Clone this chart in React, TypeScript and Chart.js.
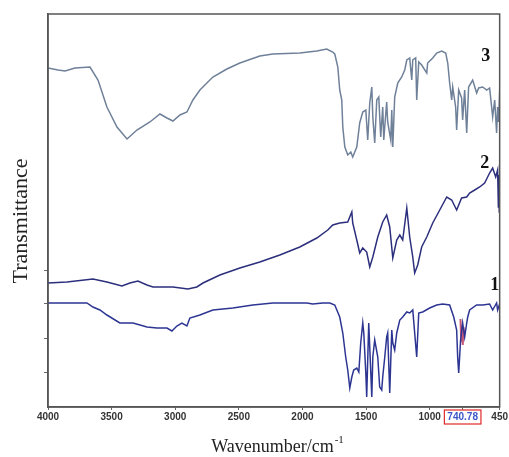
import React, { useEffect, useRef } from 'react';
import { Chart, registerables } from 'chart.js';

Chart.register(...registerables);

// x axis ticks (wavenumber, cm-1)
const xTicks = [4000, 3500, 3000, 2500, 2000, 1500, 1000, 740.78, 450];
const markedPeak = 740.78;
const yTicks = [35, 69, 104, 137];

// Curve 3
const wn3 = [4000, 3921, 3866, 3788, 3670, 3607, 3537, 3458, 3379, 3301, 3199, 3120, 3065, 3018, 2963, 2908, 2861, 2806, 2704, 2594, 2492, 2335, 2233, 2021, 1887, 1809, 1762, 1746, 1722, 1707, 1691, 1683, 1667, 1644, 1620, 1605, 1573, 1550, 1526, 1502, 1487, 1471, 1455, 1447, 1432, 1416, 1400, 1385, 1369, 1361, 1338, 1330, 1306, 1298, 1290, 1275, 1251, 1220, 1196, 1180, 1157, 1141, 1133, 1110, 1102, 1086, 1063, 1023, 1016, 976, 945, 906, 874, 858, 843, 827, 819, 796, 788, 772, 749, 741, 725, 709, 694, 662, 631, 615, 584, 552, 529, 513, 505, 489, 474, 466, 458, 450];
const t3 = [339, 337, 336, 339, 340, 327, 300, 280, 268, 277, 285, 293, 289, 286, 292, 295, 307, 317, 330, 338, 344, 351, 353, 354, 356, 358, 355, 353, 340, 317, 307, 280, 260, 252, 255, 250, 260, 284, 295, 297, 267, 304, 320, 290, 264, 307, 310, 270, 300, 267, 305, 285, 267, 297, 260, 310, 324, 330, 337, 347, 349, 327, 347, 349, 307, 345, 342, 334, 344, 349, 354, 356, 354, 344, 324, 307, 320, 300, 277, 317, 309, 287, 317, 274, 320, 327, 314, 319, 320, 317, 319, 300, 290, 307, 274, 300, 285, 317];

// Curve 2
const wn2 = [4000, 3851, 3647, 3537, 3419, 3356, 3293, 3222, 3175, 3018, 2900, 2830, 2782, 2649, 2492, 2335, 2178, 2021, 1887, 1801, 1762, 1707, 1644, 1612, 1605, 1573, 1550, 1526, 1495, 1471, 1447, 1408, 1369, 1338, 1314, 1290, 1259, 1235, 1212, 1180, 1157, 1133, 1118, 1094, 1063, 1023, 976, 921, 866, 827, 788, 749, 709, 686, 646, 607, 568, 529, 505, 481, 466, 460, 456, 453, 450];
const t2 = [124, 125, 128, 125, 121, 124, 126, 122, 120, 120, 118, 120, 124, 132, 139, 145, 152, 160, 169, 177, 182, 184, 185, 195, 184, 167, 154, 159, 155, 140, 150, 170, 185, 192, 180, 149, 167, 172, 167, 199, 170, 150, 134, 142, 160, 170, 184, 197, 210, 207, 197, 209, 210, 214, 217, 220, 224, 234, 239, 230, 237, 200, 232, 195, 225];

// Curve 1
const wn1 = [4000, 3694, 3647, 3592, 3537, 3435, 3332, 3277, 3222, 3144, 3065, 3026, 2987, 2948, 2908, 2885, 2806, 2704, 2547, 2390, 2233, 1966, 1919, 1840, 1785, 1746, 1707, 1683, 1660, 1644, 1628, 1612, 1597, 1573, 1557, 1542, 1526, 1518, 1502, 1495, 1479, 1455, 1447, 1432, 1408, 1393, 1377, 1369, 1353, 1338, 1330, 1314, 1298, 1290, 1275, 1259, 1235, 1212, 1180, 1157, 1133, 1102, 1086, 1055, 1000, 945, 898, 843, 811, 788, 780, 772, 757, 741, 725, 709, 701, 686, 631, 584, 529, 505, 474, 466, 450];
const t1 = [104, 104, 100, 97, 92, 84, 84, 82, 80, 79, 79, 76, 81, 84, 81, 89, 92, 97, 99, 102, 104, 104, 103, 104, 104, 102, 90, 74, 50, 37, 19, 30, 37, 39, 35, 64, 84, 74, 34, 10, 84, 10, 50, 67, 50, 20, 17, 30, 50, 70, 74, 14, 77, 64, 57, 74, 87, 90, 95, 94, 97, 50, 94, 95, 99, 102, 103, 102, 90, 77, 50, 34, 67, 84, 70, 84, 90, 97, 102, 102, 103, 97, 104, 97, 103];

// Highlighted segment near 740.78
const wnRed = [758, 752, 746, 740, 734, 728];
const tRed = [88, 66, 82, 62, 80, 72];

// Curve numbers
const curveLabels = ['3', '2', '1'];
const labelWn = [560, 568, 489];
const labelT = [351, 244, 122];

const pts = (xs: number[], ys: number[]) => xs.map((x, i) => ({ x, y: ys[i] }));

const tickFont = 'bold 10px "Liberation Sans", Arial, sans-serif';

const decor = {
  id: 'decor',
  afterDatasetsDraw(chart: any) {
    const { ctx, chartArea: a, scales } = chart;
    const x = scales.x;
    const y = scales.y;
    ctx.save();
    // frame
    ctx.strokeStyle = '#555';
    ctx.lineWidth = 1.5;
    ctx.strokeRect(a.left, a.top, a.right - a.left, a.bottom - a.top);
    // curve numbers
    ctx.fillStyle = '#111';
    ctx.font = 'bold 18px "Liberation Serif", "Times New Roman", serif';
    ctx.textAlign = 'center';
    ctx.textBaseline = 'middle';
    curveLabels.forEach((l, i) => {
      ctx.fillText(l, x.getPixelForValue(labelWn[i]), y.getPixelForValue(labelT[i]));
    });
    // box round the marked peak label
    ctx.font = tickFont;
    const w = ctx.measureText(String(markedPeak)).width;
    const px = x.getPixelForValue(markedPeak);
    ctx.strokeStyle = '#e02828';
    ctx.lineWidth = 1.2;
    ctx.strokeRect(px - w / 2 - 3, a.bottom + 3, w + 6, 14);
    // y title
    ctx.save();
    ctx.translate(21, 221);
    ctx.rotate(-Math.PI / 2);
    ctx.fillStyle = '#222';
    ctx.font = '22px "Liberation Serif", "Times New Roman", serif';
    ctx.textAlign = 'center';
    ctx.textBaseline = 'middle';
    ctx.fillText('Transmittance', 0, 0);
    ctx.restore();
    // x title with superscript
    ctx.fillStyle = '#222';
    ctx.font = '18px "Liberation Serif", "Times New Roman", serif';
    ctx.textAlign = 'left';
    ctx.textBaseline = 'alphabetic';
    const main = 'Wavenumber/cm';
    const mw = ctx.measureText(main).width;
    ctx.font = '11px "Liberation Serif", "Times New Roman", serif';
    const sw = ctx.measureText('-1').width;
    const startX = 277 - (mw + sw) / 2;
    ctx.font = '18px "Liberation Serif", "Times New Roman", serif';
    ctx.fillText(main, startX, 452);
    ctx.font = '11px "Liberation Serif", "Times New Roman", serif';
    ctx.fillText('-1', startX + mw + 1, 443);
    ctx.restore();
  },
};

export default function App() {
  const ref = useRef<HTMLCanvasElement | null>(null);
  useEffect(() => {
    if (!ref.current) return;
    const chart = new Chart(ref.current, {
      type: 'line',
      data: {
        datasets: [
          { label: '3', data: pts(wn3, t3), borderColor: '#6f8099', borderWidth: 1.5, pointRadius: 0, tension: 0 },
          { label: '2', data: pts(wn2, t2), borderColor: '#2c2f7c', borderWidth: 1.5, pointRadius: 0, tension: 0 },
          { label: '1', data: pts(wn1, t1), borderColor: '#2d3592', borderWidth: 1.5, pointRadius: 0, tension: 0 },
          { label: 'mark', data: pts(wnRed, tRed), borderColor: '#c4587a', borderWidth: 2, pointRadius: 0, tension: 0 },
        ],
      },
      options: {
        responsive: false,
        animation: false,
        layout: { padding: { top: 14, right: 9, left: 0, bottom: 0 } },
        plugins: { legend: { display: false }, tooltip: { enabled: false } },
        scales: {
          x: {
            type: 'linear',
            reverse: true,
            min: 450,
            max: 4000,
            afterBuildTicks: (s: any) => { s.ticks = xTicks.map((v) => ({ value: v })); },
            afterFit: (s: any) => { s.height = 50; },
            grid: { display: true, drawOnChartArea: false, tickLength: 3, color: '#666' },
            border: { display: true, color: '#555', width: 1.5 },
            ticks: {
              autoSkip: false,
              maxRotation: 0,
              padding: 1,
              font: { family: '"Liberation Sans", Arial, sans-serif', size: 10, weight: 'bold' },
              color: (c: any) => (c.tick && c.tick.value === markedPeak ? '#3a55c8' : '#333'),
              callback: (v: any) => String(v),
            },
          },
          y: {
            type: 'linear',
            min: 0,
            max: 393,
            afterBuildTicks: (s: any) => { s.ticks = yTicks.map((v) => ({ value: v })); },
            afterFit: (s: any) => { s.width = 48; },
            grid: { display: true, drawOnChartArea: false, tickLength: 4, color: '#666' },
            border: { display: true, color: '#555', width: 1.5 },
            ticks: { callback: () => '', padding: 0 },
          },
        },
      },
      plugins: [decor],
    });
    return () => chart.destroy();
  }, []);
  return (
    <div style={{ position: 'absolute', left: 0, top: 0, width: 509, height: 457, background: '#fff' }}>
      <canvas ref={ref} width={509} height={457} />
    </div>
  );
}
